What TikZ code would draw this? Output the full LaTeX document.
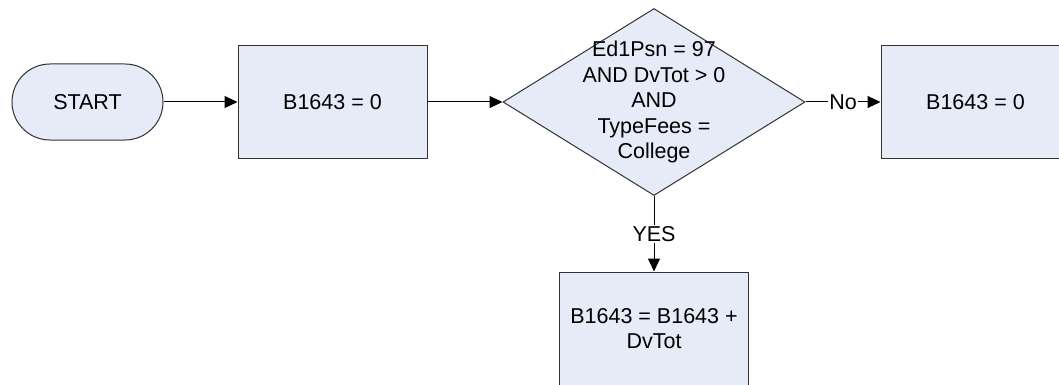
\documentclass[tikz,border=0pt]{standalone}
\usepackage{fontspec}
\setmainfont{Liberation Sans}
\usetikzlibrary{shapes.geometric,arrows.meta}
\definecolor{boxfill}{RGB}{230,236,247}
\definecolor{boxline}{RGB}{50,50,50}
\begin{document}
\begin{tikzpicture}[x=1pt,y=-1pt,
  every node/.style={font=\fontsize{21.5}{25.5}\selectfont},
  procbox/.style={draw=boxline,fill=boxfill,line width=1pt,minimum width=189pt,minimum height=113pt,inner sep=0pt,align=center},
  startbox/.style={draw=boxline,fill=boxfill,line width=1pt,rounded corners=38pt,minimum width=151pt,minimum height=76pt,inner sep=0pt},
  decbox/.style={draw=boxline,fill=boxfill,line width=1pt,diamond,minimum width=302pt,minimum height=187pt,inner sep=0pt},
  conn/.style={draw=black,line width=1pt,-{Triangle[length=13pt,width=12pt]}},
  lbl/.style={fill=white,inner sep=1.5pt}]
\useasboundingbox (0,0) rectangle (1059,385);
\node[startbox] (start) at (87.5,102) {START};
\node[procbox] (b1) at (332.5,102) {B1643 = 0};
\node[decbox] (d) at (654,102) {};
\node[align=center] (dt) at (654,102) {Ed1Psn = 97\\AND DvTot > 0\\AND\\TypeFees =\\College};
\node[procbox] (b2) at (975.5,102) {B1643 = 0};
\node[procbox] (b3) at (654,328.5) {B1643 = B1643 +\\DvTot};
\draw[conn] (start) -- (b1);
\draw[conn] (b1) -- (d.west);
\draw[conn] (d.east) -- node[lbl] {No} (b2);
\draw[conn] (d.south) -- node[lbl] {YES} (b3);
\end{tikzpicture}
\end{document}
